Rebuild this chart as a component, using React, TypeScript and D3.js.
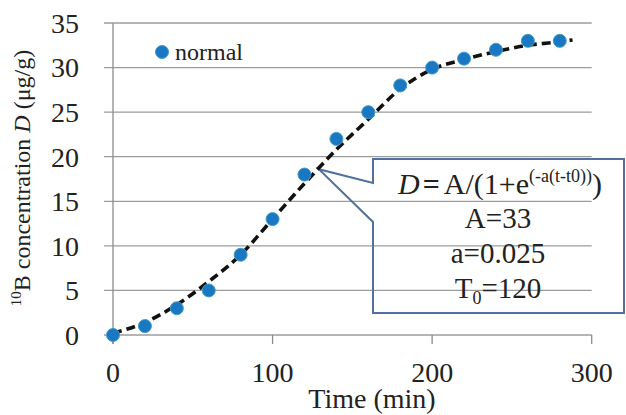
import React from 'react';
import * as d3 from 'd3';

const timeMin = [0, 20, 40, 60, 80, 100, 120, 140, 160, 180, 200, 220, 240, 260, 280];
const boronNormal = [0, 1, 3, 5, 9, 13, 18, 22, 25, 28, 30, 31, 32, 33, 33];
const fitTime = [0, 20, 40, 60, 80, 100, 120, 140, 160, 180, 200, 220, 240, 260, 280, 288];
const fitD = [0.2, 1.4, 3.4, 6.0, 9.0, 13.0, 17.0, 20.8, 24.2, 27.6, 29.8, 30.9, 31.8, 32.5, 32.9, 33.1];
const xTicks = [0, 100, 200, 300];
const yTicks = [0, 5, 10, 15, 20, 25, 30, 35];
const legendLabel = 'normal';
const paramLines = ['A=33', 'a=0.025'];
const t0Value = '120';

const W = 626;
const H = 415;
const FONT = "'Liberation Serif', 'Times New Roman', Times, 'DejaVu Serif', serif";

export default function App() {
  const x = d3.scaleLinear().domain([0, 300]).range([113, 591.7]);
  const y = d3.scaleLinear().domain([0, 35]).range([335, 23]);
  const gridLeft = 104;
  const gridRight = x(300);

  const fitPts: [number, number][] = fitTime.map((t, i) => [t, fitD[i]]);
  const line = d3
    .line<[number, number]>()
    .x((d) => x(d[0]))
    .y((d) => y(d[1]))
    .curve(d3.curveMonotoneX);

  const bx0 = 373, bx1 = 624, by0 = 159, by1 = 313;
  const tipX = x(129), tipY = y(18.6);
  const notchTop = 183, notchBot = 222;
  const callout = `M${bx0},${notchTop} L${bx0},${by0} L${bx1},${by0} L${bx1},${by1} L${bx0},${by1} L${bx0},${notchBot} L${tipX},${tipY} Z`;
  const cx = 498;
  const txt = '#222';

  return (
    <svg
      width={W}
      height={H}
      style={{ position: 'absolute', left: 0, top: 0, background: '#fff', fontFamily: FONT }}
    >
      <rect x={0} y={0} width={W} height={H} fill="#fff" />
      {yTicks.map((v) => (
        <line key={'g' + v} x1={gridLeft} x2={gridRight} y1={y(v)} y2={y(v)} stroke="#9c9c9c" strokeWidth={1.3} />
      ))}
      <line x1={x(0)} x2={x(0)} y1={y(35)} y2={y(0) + 9} stroke="#8c8c8c" strokeWidth={1.3} />
      {xTicks.map((v) => (
        <line key={'xt' + v} x1={x(v)} x2={x(v)} y1={y(0)} y2={y(0) + 9} stroke="#8c8c8c" strokeWidth={1.3} />
      ))}
      {yTicks.map((v) => (
        <text key={'yl' + v} x={79} y={y(v)} dy="0.35em" textAnchor="end" fontSize={28} fill={txt}>
          {v}
        </text>
      ))}
      {xTicks.map((v) => (
        <text key={'xl' + v} x={x(v)} y={382} textAnchor="middle" fontSize={28} fill={txt}>
          {v}
        </text>
      ))}
      <text x={372} y={408} textAnchor="middle" fontSize={28} fill={txt}>
        Time (min)
      </text>
      <text transform={`translate(30,178) rotate(-90)`} textAnchor="middle" fontSize={24} fill={txt}>
        <tspan fontSize={15} dy={-9}>10</tspan>
        <tspan dy={9}>B concentration </tspan>
        <tspan fontStyle="italic">D</tspan>
        <tspan> (μg/g)</tspan>
      </text>

      <path d={callout} fill="none" stroke="#52709c" strokeWidth={2} strokeLinejoin="miter" />

      <path d={line(fitPts) || ''} fill="none" stroke="#111" strokeWidth={3.6} strokeDasharray="9,5" />

      {timeMin.map((t, i) => (
        <circle key={'p' + i} cx={x(t)} cy={y(boronNormal[i])} r={6.5} fill="#1a78c2" stroke="#3f9ac9" strokeWidth={1} />
      ))}

      <circle cx={162} cy={52} r={6.5} fill="#1a78c2" stroke="#3f9ac9" strokeWidth={1} />
      <text x={175} y={60} fontSize={24} fill={txt}>
        {legendLabel}
      </text>

      <text x={500} y={194} textAnchor="middle" fontSize={30} fill={txt}>
        <tspan fontStyle="italic">D</tspan>
        <tspan dx={3} fontWeight="bold">=</tspan>
        <tspan dx={4}>A/(1+e</tspan>
        <tspan fontSize={18} dy={-12}>(-a(t-t0))</tspan>
        <tspan dy={12}>)</tspan>
      </text>
      {paramLines.map((s, i) => (
        <text key={'pl' + i} x={cx} y={228 + i * 35} textAnchor="middle" fontSize={29} fill={txt}>
          {s}
        </text>
      ))}
      <text x={cx} y={298} textAnchor="middle" fontSize={29} fill={txt}>
        <tspan>T</tspan>
        <tspan fontSize={18} dy={6}>0</tspan>
        <tspan dy={-6}>={t0Value}</tspan>
      </text>
    </svg>
  );
}
